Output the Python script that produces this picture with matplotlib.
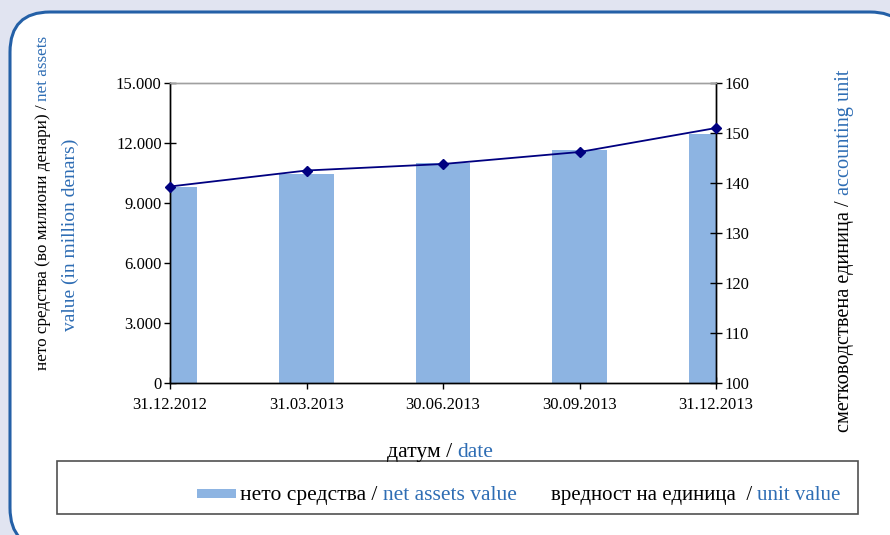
import matplotlib
matplotlib.use('Agg')
import matplotlib.pyplot as plt
from matplotlib.patches import FancyBboxPatch, Rectangle

# ── data ──────────────────────────────────────────────────────────────────────
dates = ['31.12.2012', '31.03.2013', '30.06.2013', '30.09.2013', '31.12.2013']
net_assets = [9780, 10450, 10980, 11630, 12465]      # million denars
unit_value = [139.3, 142.5, 143.8, 146.2, 151.0]

left_ticks = [0, 3000, 6000, 9000, 12000, 15000]
left_labels = ['0', '3.000', '6.000', '9.000', '12.000', '15.000']
right_ticks = [100, 110, 120, 130, 140, 150, 160]

BAR_COLOR = '#8db4e2'
LINE_COLOR = '#000080'
BLUE_TXT = '#2e6db4'
BG = '#e1e4f1'
FONT = 'Liberation Serif'
FS = 12

W, H = 890, 535
plt.rcParams['font.family'] = [FONT, 'DejaVu Serif']

fig = plt.figure(figsize=(W / 100, H / 100), dpi=100)
fig.patch.set_facecolor(BG)


def px(x, y):
    """pixel (from top-left) -> figure fraction"""
    return x / W, 1 - y / H


# rounded white panel
panel = FancyBboxPatch(px(10, 548), 900 / W, (548 - 12) / H,
                       boxstyle='round,pad=0,rounding_size=0.045',
                       transform=fig.transFigure, facecolor='white',
                       edgecolor='#2460a7', linewidth=2.2, zorder=-5,
                       mutation_aspect=W / H)
fig.patches.append(panel)

# ── axes ──────────────────────────────────────────────────────────────────────
x0, y0 = px(170, 383)
x1, y1 = px(716, 83)
ax = fig.add_axes([x0, y0, x1 - x0, y1 - y0])
ax.set_zorder(2)
ax.set_facecolor('white')
pos = list(range(len(dates)))
ax.bar(pos, net_assets, width=0.4, color=BAR_COLOR, zorder=2)
ax.set_xlim(0, len(dates) - 1)
ax.set_ylim(0, 15000)
ax.set_yticks(left_ticks)
ax.set_yticklabels(left_labels)
ax.set_xticks(pos)
ax.set_xticklabels(dates)

ax2 = ax.twinx()
ax2.set_zorder(3)
ax2.plot(pos, unit_value, color=LINE_COLOR, lw=1.3, marker='D', markersize=5.5,
         zorder=3, clip_on=False)
ax2.set_ylim(100, 160)
ax2.set_yticks(right_ticks)

for a in (ax, ax2):
    a.tick_params(direction='inout', length=8, width=1, labelsize=FS,
                  colors='black', pad=2)
    for s in a.spines.values():
        s.set_linewidth(1)
        s.set_color('black')
    a.spines['top'].set_color('#a0a0a0')
ax.tick_params(axis='x', pad=6)

# ── multicolour text helper ───────────────────────────────────────────────────
renderer = fig.canvas.get_renderer()


def multi(parts, x, y, rotation=0, center=False, size=FS):
    """parts: list of (text, color); x, y = baseline pixel position"""
    texts = []
    for s, c in parts:
        t = fig.text(0, 0, s, color=c, fontsize=size, rotation=rotation,
                     ha='left', va='baseline', rotation_mode='anchor')
        texts.append(t)
    exts = [t.get_window_extent(renderer) for t in texts]
    if rotation == 0:
        total = sum(e.width for e in exts)
        cur = x - total / 2 if center else x
        for t, e in zip(texts, exts):
            t.set_position(px(cur, y))
            cur += e.width
    else:
        total = sum(e.height for e in exts)
        cur = y + total / 2 if center else y   # pixel y grows downward
        for t, e in zip(texts, exts):
            t.set_position(px(x, cur))
            cur -= e.height


# axis titles
multi([('нето средства (во милиони денари) / ', 'black'),
       ('net assets', BLUE_TXT)], 47, 203, rotation=90, center=True, size=12.3)
multi([('value (in million denars)', BLUE_TXT)], 75, 235, rotation=90,
      center=True, size=14)
multi([('сметководствена единица / ', 'black'),
       ('accounting unit', BLUE_TXT)], 849, 251, rotation=90, center=True,
      size=14.6)
multi([('датум / ', 'black'), ('date', BLUE_TXT)], 440, 457, center=True,
      size=15.6)

# ── legend box ────────────────────────────────────────────────────────────────
lx, ly = px(57, 514)
fig.patches.append(Rectangle((lx, ly), (858 - 57) / W, (514 - 461) / H,
                             transform=fig.transFigure, facecolor='white',
                             edgecolor='#505050', linewidth=1.2, zorder=1))
sx, sy = px(197, 498)
fig.patches.append(Rectangle((sx, sy), 39 / W, 9 / H, transform=fig.transFigure,
                             facecolor=BAR_COLOR, edgecolor='none', zorder=2))
multi([('нето средства', 'black'), (' / ', 'black'),
       ('net assets value', BLUE_TXT)], 240, 500, size=15.5)
multi([('вредност на единица  / ', 'black'),
       ('unit value', BLUE_TXT)], 551, 500, size=15)

fig.savefig('out.png', dpi=100, facecolor=BG)
